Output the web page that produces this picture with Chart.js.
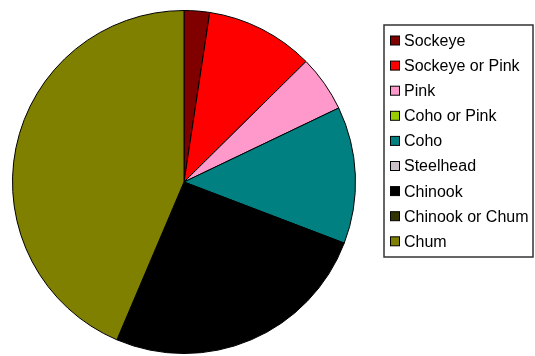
<!DOCTYPE html>
<html>
<head>
<meta charset="utf-8">
<script src="https://cdn.jsdelivr.net/npm/chart.js@4/dist/chart.umd.min.js"></script>
<style>
  html, body { margin: 0; padding: 0; background: #fff; }
  #wrap { width: 535px; height: 356px; }
</style>
</head>
<body>
<div id="wrap"><canvas id="c" width="535" height="356"></canvas></div>
<script>
// Catch composition by species (percent of total)
const species = ['Sockeye', 'Sockeye or Pink', 'Pink', 'Coho or Pink', 'Coho',
                 'Steelhead', 'Chinook', 'Chinook or Chum', 'Chum'];
const shares = [2.4, 10.2, 5.3, 0, 12.9, 0, 25.6, 0, 43.6];
const colours = ['#800000', '#FF0000', '#FF99CC', '#99CC00', '#008080',
                 '#CCC0C8', '#000000', '#333300', '#808000'];

// Boxed legend drawn to the right of the pie
const boxedLegend = {
  id: 'boxedLegend',
  afterDraw(chart) {
    const ctx = chart.ctx;
    const ds = chart.data.datasets[0];
    const left = 384, top = 25, right = 533, bottom = 257;
    ctx.save();
    ctx.fillStyle = '#ffffff';
    ctx.fillRect(left, top, right - left, bottom - top);
    ctx.strokeStyle = '#333333';
    ctx.lineWidth = 1.5;
    ctx.strokeRect(left, top, right - left, bottom - top);
    ctx.font = '16px "Liberation Sans", Arial, sans-serif';
    ctx.textBaseline = 'middle';
    chart.data.labels.forEach((label, i) => {
      const cy = 40.5 + i * 25.1;
      ctx.fillStyle = ds.backgroundColor[i];
      ctx.fillRect(390.5, cy - 4.5, 9, 9);
      ctx.strokeStyle = '#000000';
      ctx.lineWidth = 1;
      ctx.strokeRect(390.5, cy - 4.5, 9, 9);
      ctx.fillStyle = '#000000';
      ctx.fillText(label, 404, cy + 1);
    });
    ctx.restore();
  }
};

new Chart(document.getElementById('c'), {
  type: 'pie',
  data: {
    labels: species,
    datasets: [{
      data: shares,
      backgroundColor: colours,
      borderColor: '#000000',
      borderWidth: 1,
      hoverOffset: 0,
      offset: 0
    }]
  },
  options: {
    responsive: false,
    devicePixelRatio: 1,
    animation: false,
    layout: { padding: { left: 11, top: 10, right: 178, bottom: 2 } },
    plugins: {
      legend: { display: false },
      tooltip: { enabled: false }
    }
  },
  plugins: [boxedLegend]
});
</script>
</body>
</html>
